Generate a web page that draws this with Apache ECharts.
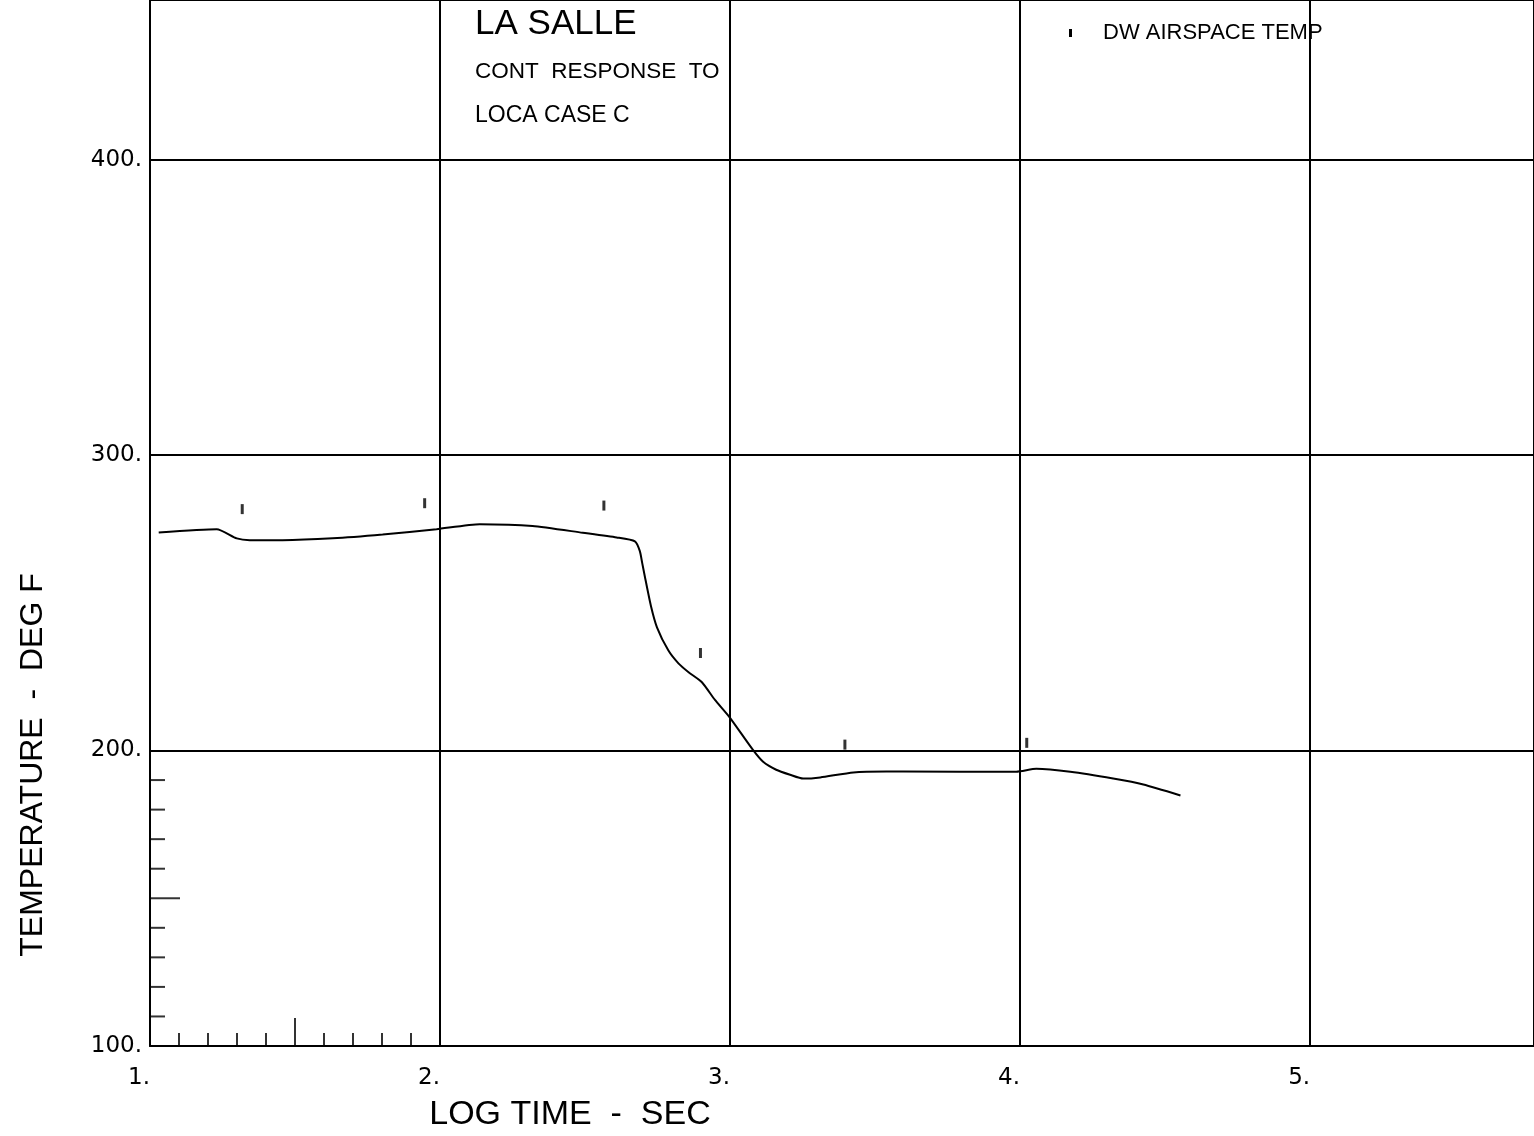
<!DOCTYPE html>
<html>
<head>
<meta charset="utf-8">
<script src="https://cdn.jsdelivr.net/npm/echarts@6/dist/echarts.min.js"></script>
<style>
html,body{margin:0;padding:0;background:#fff;}
#chart{width:1534px;height:1136px;}
</style>
</head>
<body>
<div id="chart"></div>
<script>
// ---- data ----
const logTime = [1.030,1.230,1.299,1.344,1.457,1.630,1.802,1.988,2.137,2.319,2.492,2.609,2.672,2.689,2.697,2.706,2.727,2.748,2.787,2.822,2.857,2.903,2.948,2.998,3.079,3.114,3.159,3.207,3.252,3.311,3.425,3.539,3.597,3.987,4.056,4.173,4.321,4.425,4.553];
const tempF   = [273.8,274.9,271.8,271.2,271.2,271.8,273.1,274.9,276.6,276.0,273.7,272.1,270.8,267.5,263.5,259.0,249.0,241.7,233.9,229.5,226.5,223.1,217.1,211.3,200.2,196.2,193.5,191.8,190.5,190.9,192.6,192.9,192.9,192.8,193.8,192.8,190.5,188.5,184.8];
const markerTime = [1.318,1.947,2.565,2.898,3.396,4.023];
const markerTemp = [281.7,283.7,282.9,233.0,202.0,202.6];
const xMinorTicks = [1.1,1.2,1.3,1.4,1.5,1.6,1.7,1.8,1.9];
const yMinorTicks = [110,120,130,140,150,160,170,180,190];
const seriesName = 'DW AIRSPACE TEMP';
const titleLines = ['LA SALLE','CONT  RESPONSE  TO','LOCA CASE C'];
const xTitle = 'LOG TIME  -  SEC';
const yTitle = 'TEMPERATURE  -  DEG F';

const FONT = "'Liberation Sans', 'DejaVu Sans', sans-serif";
const TICKFONT = "'DejaVu Sans', 'Liberation Sans', sans-serif";
const chart = echarts.init(document.getElementById('chart'), null, {renderer:'canvas'});

const curve = logTime.map((x,i)=>[x,tempF[i]]);
const marks = markerTime.map((x,i)=>[x,markerTemp[i]]);
const xMinor = xMinorTicks.map(x=>[x,100]);
const yMinor = yMinorTicks.map(y=>[1,y]);

chart.setOption({
  animation:false,
  backgroundColor:'#fff',
  grid:{left:150,right:0,top:0,bottom:90,containLabel:false},
  xAxis:{type:'value',min:1,max:5.772,interval:1,
    axisLine:{show:true,onZero:false,lineStyle:{color:'#000',width:2}},
    axisTick:{show:false},
    splitLine:{show:true,lineStyle:{color:'#000',width:2}},
    axisLabel:{show:true,showMaxLabel:false,color:'#000',fontFamily:TICKFONT,fontSize:23,margin:21,
      padding:[0,22,0,0],formatter:v=>Number.isInteger(v)?v+'.':''}
  },
  yAxis:{type:'value',min:100,max:454,interval:100,
    axisLine:{show:true,onZero:false,lineStyle:{color:'#000',width:2}},
    axisTick:{show:false},
    splitLine:{show:true,lineStyle:{color:'#000',width:2}},
    axisLabel:{show:true,showMaxLabel:false,color:'#000',fontFamily:TICKFONT,fontSize:23,margin:8,
      padding:[6,0,0,0],formatter:v=>Number.isInteger(v)?v+'.':''}
  },
  legend:{show:true,left:1064,top:17,icon:'rect',itemWidth:3,itemHeight:8,
    data:[{name:seriesName,icon:'rect',itemStyle:{color:'#000'}}],
    textStyle:{color:'#000',fontFamily:FONT,fontSize:22,padding:[0,0,0,26]}},
  graphic:[
    {type:'text',x:475,y:24,style:{text:titleLines[0],font:'35px '+FONT,fill:'#000',align:'left',verticalAlign:'middle'}},
    {type:'text',x:475,y:72,style:{text:titleLines[1],font:'22.5px '+FONT,fill:'#000',align:'left',verticalAlign:'middle'}},
    {type:'text',x:475,y:116,style:{text:titleLines[2],font:'23px '+FONT,fill:'#000',align:'left',verticalAlign:'middle'}},
    {type:'text',x:570,y:1115,style:{text:xTitle,font:'34px '+FONT,fill:'#000',align:'center',verticalAlign:'middle'}},
    {type:'text',x:33,y:765,rotation:Math.PI/2,style:{text:yTitle,font:'32px '+FONT,fill:'#000',align:'center',verticalAlign:'middle'}}
  ],
  series:[
    {name:seriesName,type:'line',data:curve,showSymbol:false,symbol:'none',smooth:0.2,
      lineStyle:{color:'#000',width:2},itemStyle:{color:'#000'},z:3},
    {name:seriesName,type:'scatter',data:marks,symbol:'rect',symbolSize:[3,10],
      itemStyle:{color:'#000'},z:4},
    {name:'xminor',type:'scatter',data:xMinor,symbol:'rect',clip:false,
      symbolSize:(v)=>Math.abs(v[0]-1.5)<1e-6?[2,28]:[2,13],
      symbolOffset:(v)=>Math.abs(v[0]-1.5)<1e-6?[0,-14]:[0,-6.5],
      itemStyle:{color:'#000'},silent:true},
    {name:'yminor',type:'scatter',data:yMinor,symbol:'rect',clip:false,
      symbolSize:(v)=>v[1]===150?[30,2]:[15,2],
      symbolOffset:(v)=>v[1]===150?[15,0]:[7.5,0],
      itemStyle:{color:'#000'},silent:true}
  ]
});
</script>
</body>
</html>
